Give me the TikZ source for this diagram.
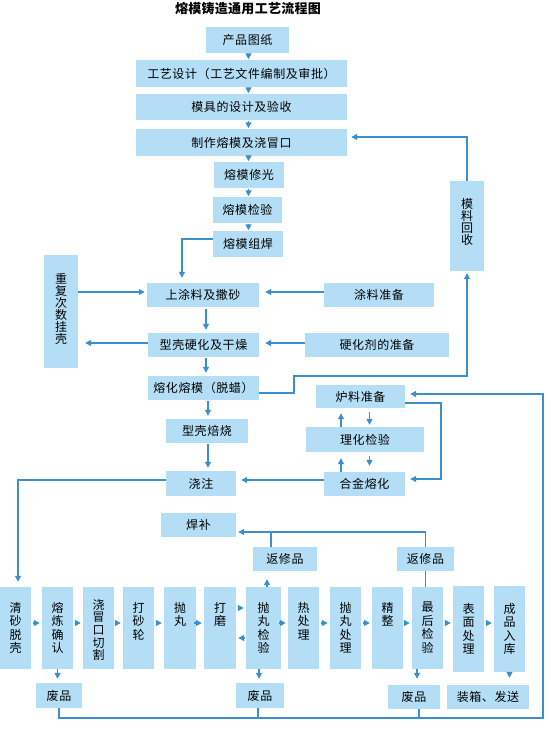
\documentclass[tikz,border=0pt]{standalone}
\usepackage{fontspec}
\setmainfont{Noto Sans CJK SC}[LetterSpace=5]
\newfontfamily\titlefont{Noto Sans CJK SC}[LetterSpace=2]
\usetikzlibrary{arrows.meta}
\definecolor{boxfill}{RGB}{180,222,246}
\definecolor{linec}{RGB}{58,143,204}
\newcommand\vtxt[4]{\parbox[c][#1][t]{24pt}{\centering\baselineskip=#3\relax\vspace*{#2}#4\par}}
\tikzset{
  box/.style={fill=boxfill, draw=none, inner sep=0pt, font=\fontsize{12}{14}\selectfont},
  con/.style={draw=linec, line width=1.4pt},
  arr/.style={con, -{Triangle[length=6pt,width=6pt]}, shorten >=4pt},
  gaparr/.style={con, -{Triangle[length=6pt,width=6pt]}, shorten <=0.5pt, shorten >=0.5pt},
  harr/.style={con, -{Triangle[length=6pt,width=6pt]}, shorten <=2pt, shorten >=2pt},
}
\begin{document}
\begin{tikzpicture}[x=1pt,y=-1pt]
\useasboundingbox (0,0) rectangle (550,730);
\node[font=\titlefont\fontsize{13}{15}\selectfont\bfseries] (title) at (248,8.5) {熔模铸造通用工艺流程图};
% top chain
\node[box, minimum width=83pt, minimum height=26pt] (p1) at (247.5,40) {产品图纸};
\node[box, minimum width=211pt, minimum height=27pt] (p2) at (241.5,73.5) {工艺设计（工艺文件编制及审批）};
\node[box, minimum width=211pt, minimum height=26pt] (p3) at (241.5,107) {模具的设计及验收};
\node[box, minimum width=211pt, minimum height=27pt] (p4) at (241.5,142.5) {制作熔模及浇冒口};
\node[box, minimum width=70pt, minimum height=26pt] (p5) at (249,175) {熔模修光};
\node[box, minimum width=69pt, minimum height=26pt] (p6) at (247.5,210) {熔模检验};
\node[box, minimum width=70pt, minimum height=26pt] (p7) at (248,244) {熔模组焊};
\node[box, minimum width=34pt, minimum height=90pt] (mlhs) at (467,226) {\vtxt{90pt}{17pt}{12.3pt}{模\\料\\回\\收}};
\node[box, minimum width=34pt, minimum height=113pt] (cf) at (61,311.5) {\vtxt{113pt}{18pt}{12pt}{重\\复\\次\\数\\挂\\壳}};
\node[box, minimum width=112pt, minimum height=24pt] (s1) at (203,295) {上涂料及撒砂};
\node[box, minimum width=110pt, minimum height=24pt] (tl) at (379,295) {涂料准备};
\node[box, minimum width=111pt, minimum height=24pt] (s2) at (203.5,345) {型壳硬化及干燥};
\node[box, minimum width=144pt, minimum height=24pt] (yhj) at (377,345) {硬化剂的准备};
\node[box, minimum width=111pt, minimum height=24pt] (s3) at (203.5,388) {熔化熔模（脱蜡）};
\node[box, minimum width=82pt, minimum height=24pt] (s4) at (207,431) {型壳焙烧};
\node[box, minimum width=70pt, minimum height=25pt] (s5) at (201,483.5) {浇注};
\node[box, minimum width=89pt, minimum height=23pt] (ll) at (360.5,396.5) {炉料准备};
\node[box, minimum width=118pt, minimum height=25pt] (lh) at (365,439.5) {理化检验};
\node[box, minimum width=81pt, minimum height=24pt] (hj) at (364.5,484) {合金熔化};
\node[box, minimum width=75pt, minimum height=24pt] (hb) at (198.5,525) {焊补};
\node[box, minimum width=64pt, minimum height=24pt] (fx1) at (285,559) {返修品};
\node[box, minimum width=57pt, minimum height=24pt] (fx2) at (425.5,559) {返修品};
% bottom row
\node[box, minimum width=31pt, minimum height=82pt] (b1) at (15.5,628) {\vtxt{82pt}{15pt}{13.5pt}{清\\砂\\脱\\壳}};
\node[box, minimum width=31pt, minimum height=82pt] (b2) at (57.5,628) {\vtxt{82pt}{15pt}{13.5pt}{熔\\炼\\确\\认}};
\node[box, minimum width=31pt, minimum height=82pt] (b3) at (98.5,628) {\vtxt{82pt}{12pt}{12.7pt}{浇\\冒\\口\\切\\割}};
\node[box, minimum width=31pt, minimum height=82pt] (b4) at (138.5,628) {\vtxt{82pt}{15pt}{13.5pt}{打\\砂\\轮}};
\node[box, minimum width=32pt, minimum height=82pt] (b5) at (180,628) {\vtxt{82pt}{15pt}{13.5pt}{抛\\丸}};
\node[box, minimum width=32pt, minimum height=82pt] (b6) at (220,628) {\vtxt{82pt}{15pt}{13.5pt}{打\\磨}};
\node[box, minimum width=35pt, minimum height=82pt] (b7) at (263.5,628) {\vtxt{82pt}{15pt}{13.5pt}{抛\\丸\\检\\验}};
\node[box, minimum width=31pt, minimum height=82pt] (b8) at (303.5,628) {\vtxt{82pt}{15pt}{13.5pt}{热\\处\\理}};
\node[box, minimum width=31pt, minimum height=82pt] (b9) at (345.5,628) {\vtxt{82pt}{15pt}{13.5pt}{抛\\丸\\处\\理}};
\node[box, minimum width=31pt, minimum height=82pt] (b10) at (387.5,628) {\vtxt{82pt}{15pt}{13.5pt}{精\\整}};
\node[box, minimum width=31pt, minimum height=82pt] (b11) at (427.5,628) {\vtxt{82pt}{15pt}{13.5pt}{最\\后\\检\\验}};
\node[box, minimum width=31pt, minimum height=86pt] (b12) at (468.5,629) {\vtxt{86pt}{17pt}{13.5pt}{表\\面\\处\\理}};
\node[box, minimum width=31pt, minimum height=86pt] (b13) at (509.5,629) {\vtxt{86pt}{17pt}{13.5pt}{成\\品\\入\\库}};
\node[box, minimum width=46pt, minimum height=25pt] (fp1) at (59,695.5) {废品};
\node[box, minimum width=48pt, minimum height=25pt] (fp2) at (260,695.5) {废品};
\node[box, minimum width=52pt, minimum height=24pt] (fp3) at (414,697) {废品};
\node[box, minimum width=82pt, minimum height=24pt] (zx) at (488,697) {装箱、发送};
% coordinates
\coordinate (xa) at (248.5,0);
\coordinate (ka) at (182,239);
\coordinate (ya) at (0,292);
\coordinate (xb) at (206,0);
\coordinate (yb) at (0,343);
\coordinate (xc) at (208,0);
\coordinate (kb) at (294,376);
\coordinate (yc) at (0,393);
\coordinate (yd) at (0,137);
\coordinate (ye) at (0,480);
\coordinate (xd) at (18,0);
\coordinate (xe) at (341,0);
\coordinate (xf) at (369.5,0);
\coordinate (kc) at (441,479);
\coordinate (yf) at (0,403);
\coordinate (kd) at (543,718);
\coordinate (yg) at (0,394);
\coordinate (yr) at (0,623);
\coordinate (yr1) at (0,608);
\coordinate (yr2) at (0,638);
\coordinate (cj) at (271,532);
% top chain arrows
\draw[gaparr] (p1.south -| xa) -- (p2.north -| xa);
\draw[gaparr] (p2.south -| xa) -- (p3.north -| xa);
\draw[gaparr] (p3.south -| xa) -- (p4.north -| xa);
\draw[gaparr] (p4.south -| xa) -- (p5.north -| xa);
\draw[gaparr] (p5.south -| xa) -- (p6.north -| xa);
\draw[gaparr] (p6.south -| xa) -- (p7.north -| xa);
% shell making
\draw[arr, shorten >=5pt] (p7.west |- ka) -| (ka |- s1.north);
\draw[arr, shorten >=2pt] (cf.east |- ya) -- (s1.west |- ya);
\draw[arr, shorten >=6pt] (tl.west |- ya) -- (s1.east |- ya);
\draw[arr, shorten <=2pt, shorten >=3pt] (s1.south -| xb) -- (s2.north -| xb);
\draw[arr, shorten >=6pt] (yhj.west |- yb) -- (s2.east |- yb);
\draw[arr, shorten >=7pt] (s2.west |- yb) -- (cf.east |- yb);
\draw[arr, shorten <=1pt, shorten >=3pt] (s2.south -| xb) -- (s3.north -| xb);
\draw[arr, shorten <=1pt, shorten >=3pt] (s3.south -| xc) -- (s4.north -| xc);
\draw[arr, shorten <=1pt, shorten >=3pt] (s4.south -| xc) -- (s5.north -| xc);
\draw[arr, shorten >=2pt] (s3.east |- yc) -| (kb) -| (mlhs.south);
\draw[arr, shorten >=4pt] (mlhs.north) |- (p4.east |- yd);
% melting
\draw[arr, shorten >=5pt] (hj.west |- ye) -- (s5.east |- ye);
\draw[arr, shorten >=5pt] (s5.west |- ye) -| (xd |- b1.north);
\draw[arr, shorten >=5pt, shorten <=0pt] (lh.north -| xe) -- (ll.south -| xe);
\draw[arr, shorten <=4pt, shorten >=2pt] (ll.south -| xf) -- (lh.north -| xf);
\draw[arr, shorten >=6pt] (hj.north -| xe) -- (lh.south -| xe);
\draw[arr, shorten <=4pt, shorten >=6pt] (lh.south -| xf) -- (hj.north -| xf);
\draw[arr, shorten >=5pt] (ll.east |- yf) -| (kc) -- (kc -| hj.east);
% scrap loop
\draw[arr, shorten >=5pt] (fp1.south) |- (kd) |- (ll.east |- yg);
\draw[con] ([xshift=-2pt]fp2.south) -- ([xshift=-2pt]fp2.south |- kd);
\draw[con] ([xshift=5pt]fp3.south) -- ([xshift=5pt]fp3.south |- kd);
% down arrows to scrap / packing
\draw[arr, shorten >=4pt] (b2.south) -- (b2.south |- fp1.north);
\draw[arr, shorten >=4pt] ([xshift=-4.5pt]b7.south) -- ([xshift=-4.5pt]b7.south |- fp2.north);
\draw[arr, shorten >=6pt] ([xshift=-10.5pt]b11.south) -- ([xshift=-10.5pt]b11.south |- fp3.north);
\draw[arr, shorten >=7pt] (b13.south) -- (b13.south |- zx.north);
% bottom row
\draw[harr] (b1.east |- yr) -- (b2.west |- yr);
\draw[harr] (b2.east |- yr) -- (b3.west |- yr);
\draw[harr] (b3.east |- yr) -- (b4.west |- yr);
\draw[harr] (b4.east |- yr) -- (b5.west |- yr);
\draw[harr] (b5.east |- yr) -- (b6.west |- yr);
\draw[harr] (b6.east |- yr1) -- (b7.west |- yr1);
\draw[harr] (b7.west |- yr2) -- (b6.east |- yr2);
\draw[harr] (b7.east |- yr) -- (b8.west |- yr);
\draw[harr] (b8.east |- yr) -- (b9.west |- yr);
\draw[harr] (b9.east |- yr) -- (b10.west |- yr);
\draw[harr] (b10.east |- yr) -- (b11.west |- yr);
\draw[harr] (b11.east |- yr) -- (b12.west |- yr);
\draw[harr] (b12.east |- yr) -- (b13.west |- yr);
% repair
\draw[arr, shorten >=8pt] ([xshift=3.5pt]b7.north) -- ([xshift=3.5pt]b7.north |- fx1.south);
\draw[con] (fx1.north -| cj) -- (cj);
\draw[arr, shorten >=2pt] (fx2.north) |- (cj) -- (cj -| hb.east);
\draw[con] (fx2.south) -- (fx2.south |- b11.north);
\end{tikzpicture}
\end{document}
